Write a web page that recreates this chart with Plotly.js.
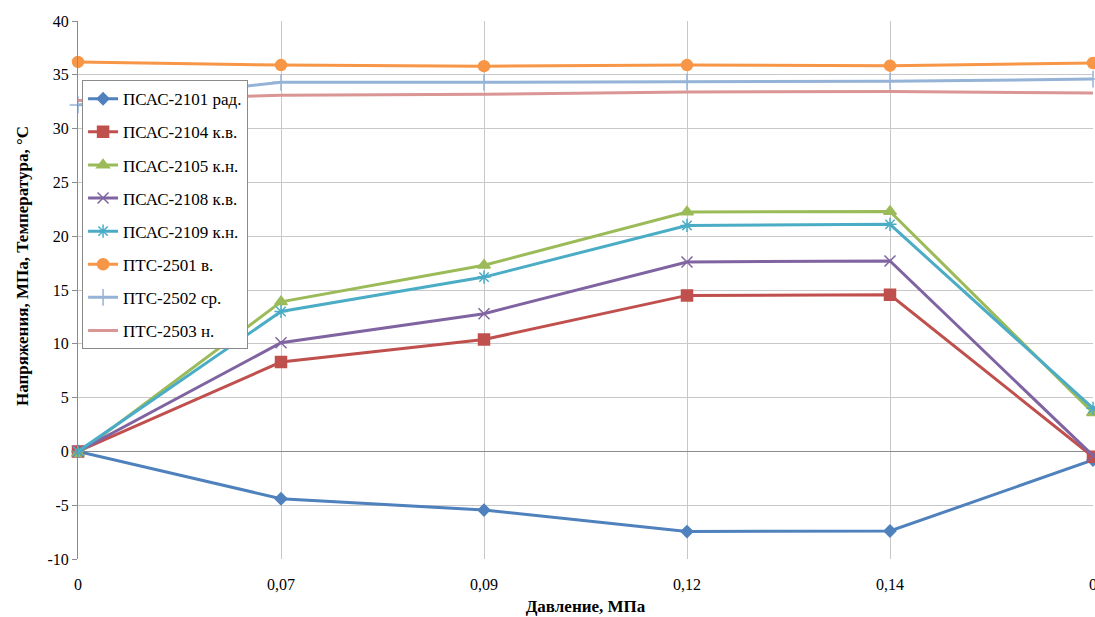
<!DOCTYPE html>
<html>
<head>
<meta charset="utf-8">
<script src="https://cdn.plot.ly/plotly-3.0.1.min.js"></script>
<style>html,body{margin:0;padding:0;background:#fff;}#chart{width:1095px;height:617px;}
#chart svg text{font-family:'Liberation Serif','Times New Roman',serif !important;}</style>
</head>
<body>
<div id="chart"></div>
<script>
// Data
const xLabels = ["0", "0,07", "0,09", "0,12", "0,14", "0"];
const yTickVals = [-10, -5, 0, 5, 10, 15, 20, 25, 30, 35, 40];
const yTickText = ["-10", "-5", "0", "5", "10", "15", "20", "25", "30", "35", "40"];
const seriesNames = ["ПСАС-2101 рад.", "ПСАС-2104 к.в.", "ПСАС-2105 к.н.", "ПСАС-2108 к.в.", "ПСАС-2109 к.н.", "ПТС-2501 в.", "ПТС-2502 ср.", "ПТС-2503 н."];
const psas2101 = [0, -4.4, -5.45, -7.45, -7.4, -0.8];
const psas2104 = [0, 8.3, 10.4, 14.5, 14.55, -0.5];
const psas2105 = [-0.2, 13.9, 17.3, 22.25, 22.3, 3.6];
const psas2108 = [0, 10.1, 12.8, 17.6, 17.7, -0.4];
const psas2109 = [0, 13.0, 16.2, 21.0, 21.1, 4.0];
const pts2501 = [36.2, 35.9, 35.8, 35.9, 35.85, 36.1];
const pts2502 = [32.2, 34.3, 34.3, 34.35, 34.4, 34.6];
const pts2503 = [32.6, 33.1, 33.2, 33.4, 33.45, 33.3];

const seriesValues = [psas2101, psas2104, psas2105, psas2108, psas2109, pts2501, pts2502, pts2503];
const colors = ["#4F81BD", "#C0504D", "#9BBB59", "#8064A2", "#4BACC6", "#F79646", "#95B3D7", "#D99694"];
const symbols = ["diamond", "square", "triangle-up", "x-thin-open", "asterisk-open", "circle", "cross-thin-open", null];
const sizes = [9, 11, 11, 11, 11, 11, 12, 0];

const xIdx = xLabels.map((_, i) => i);
const FONT = "Liberation Serif, Times New Roman, serif";

const traces = seriesValues.map((vals, k) => {
  const t = {
    type: "scatter",
    mode: symbols[k] ? "lines+markers" : "lines",
    name: seriesNames[k],
    legendgroup: "g" + k,
    x: xIdx,
    y: vals,
    cliponaxis: false,
    line: {color: colors[k], width: 3}
  };
  if (symbols[k]) {
    t.marker = {symbol: symbols[k], size: sizes[k], color: colors[k], line: {color: colors[k], width: 1.5}};
  }
  return t;
});

const layout = {
  width: 1095, height: 617,
  margin: {l: 78, r: 2, t: 21, b: 58},
  paper_bgcolor: "#fff", plot_bgcolor: "#fff",
  font: {family: FONT, size: 16, color: "#000"},
  showlegend: true,
  legend: {
    x: 0.004, y: 0.89, xanchor: "left", yanchor: "top",
    bgcolor: "#fff", bordercolor: "#8a8a8a", borderwidth: 1,
    font: {family: FONT, size: 17, color: "#000"},
    traceorder: "grouped", tracegroupgap: 8
  },
  xaxis: {
    range: [0, 5],
    tickmode: "array", tickvals: xIdx, ticktext: xLabels,
    showgrid: true, gridcolor: "#c8c8c8", gridwidth: 1,
    zeroline: false, showline: false,
    ticks: "", ticklabelstandoff: 14, ticklabeloverflow: "allow",
    tickfont: {family: FONT, size: 16, color: "#000"},
    title: {text: "<b>Давление, МПа</b>", font: {family: FONT, size: 17, color: "#000"}, standoff: 8}
  },
  yaxis: {
    range: [-10, 40],
    tickmode: "array", tickvals: yTickVals, ticktext: yTickText,
    showgrid: true, gridcolor: "#c8c8c8", gridwidth: 1,
    zeroline: true, zerolinecolor: "#8c8c8c", zerolinewidth: 1,
    showline: true, linecolor: "#8c8c8c", linewidth: 1,
    ticks: "outside", ticklen: 5, tickcolor: "#8c8c8c",
    tickfont: {family: FONT, size: 16, color: "#000"}
  },
  annotations: [{
    text: "<b>Напряжения, МПа, Температура, °С</b>",
    xref: "paper", yref: "paper",
    x: -0.054, y: 0.545, xanchor: "center", yanchor: "middle",
    textangle: -90, showarrow: false,
    font: {family: FONT, size: 17, color: "#000"}
  }]
};

Plotly.newPlot("chart", traces, layout, {displayModeBar: false, staticPlot: true}).then(() => {
  document.querySelectorAll("#chart svg text").forEach(t => {
    t.style.setProperty("font-family", "'Liberation Serif', 'Times New Roman', serif", "important");
  });
});
</script>
</body>
</html>
